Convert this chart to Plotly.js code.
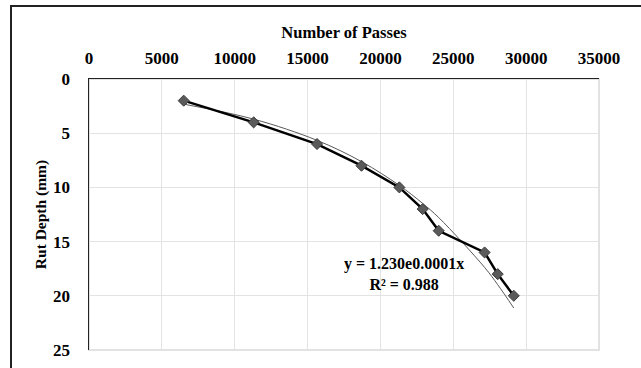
<!DOCTYPE html>
<html><head><meta charset="utf-8">
<script src="https://cdn.plot.ly/plotly-3.0.1.min.js"></script>
<style>
html,body{margin:0;padding:0;background:#fff;}
#frame{position:absolute;left:10px;top:5px;width:700px;height:450px;border:2px solid #222;}
#plot{position:absolute;left:0;top:0;width:641px;height:368px;}
</style></head>
<body>
<div id="frame"></div>
<div id="plot"></div>
<script>
const passes = [6500, 11300, 15650, 18700, 21300, 22900, 24000, 27150, 28050, 29150];
const rutDepth = [2, 4, 6, 8, 10, 12, 14, 16, 18, 20];
const xTicks = [0, 5000, 10000, 15000, 20000, 25000, 30000, 35000];
const yTicks = [0, 5, 10, 15, 20, 25];
const eqText = 'y = 1.230e0.0001x<br>R² = 0.988';

// Exponential trendline (least squares on ln y), as in the spreadsheet fit
const n = passes.length;
const ly = rutDepth.map(Math.log);
const mx = passes.reduce((a,b)=>a+b,0)/n;
const my = ly.reduce((a,b)=>a+b,0)/n;
let sxy=0, sxx=0;
for (let i=0;i<n;i++){ sxy += (passes[i]-mx)*(ly[i]-my); sxx += (passes[i]-mx)**2; }
const b = sxy/sxx, a = Math.exp(my - b*mx);
const trendY = passes.map(x => a*Math.exp(b*x));

const font = {family:'"Liberation Serif","Times New Roman",serif', color:'#000'};
const data = [
  {x: passes, y: trendY, mode:'lines', line:{color:'#595959', width:1, shape:'spline'}, hoverinfo:'skip'},
  {x: passes, y: rutDepth, mode:'lines+markers',
   line:{color:'#000', width:2.5},
   marker:{symbol:'diamond', size:8.5, color:'#5a5a5a', line:{color:'#3a3a3a', width:1}}}
];
const layout = {
  width:641, height:368,
  margin:{l:89, r:42, t:79, b:18},
  paper_bgcolor:'rgba(0,0,0,0)', plot_bgcolor:'#fff',
  showlegend:false,
  font: Object.assign({size:16, weight:'bold'}, font),
  xaxis:{side:'top', range:[0,35000], tickvals:xTicks, ticktext:xTicks.map(String),
    showgrid:true, gridcolor:'#e3e3e3', gridwidth:1, zeroline:false,
    showline:true, linecolor:'#222', linewidth:1.5, ticks:'', ticklabelstandoff:7,
    tickfont:Object.assign({size:17, weight:'bold'}, font),
    title:{text:'Number of Passes', standoff:6, font:Object.assign({size:16.5, weight:'bold'}, font)}},
  yaxis:{range:[25,0], tickvals:yTicks, ticktext:yTicks.map(String),
    showgrid:true, gridcolor:'#e3e3e3', gridwidth:1, zeroline:false,
    showline:true, linecolor:'#222', linewidth:1.5, ticks:'', ticklabelstandoff:14,
    tickfont:Object.assign({size:17, weight:'bold'}, font),
    title:{text:'Rut Depth (mm)', standoff:2, font:Object.assign({size:15.5, weight:'bold'}, font)}},
  shapes:[{type:'rect', xref:'paper', yref:'paper', x0:0, x1:1, y0:0, y1:1,
    line:{color:'#d9d9d9', width:1.5}, layer:'below'}],
  annotations:[{x:21620, y:18.0, xref:'x', yref:'y', text:eqText, showarrow:false,
    font:Object.assign({size:16, weight:'bold'}, font), align:'center'}]
};
Plotly.newPlot('plot', data, layout, {displayModeBar:false, staticPlot:true});
</script>
</body></html>
